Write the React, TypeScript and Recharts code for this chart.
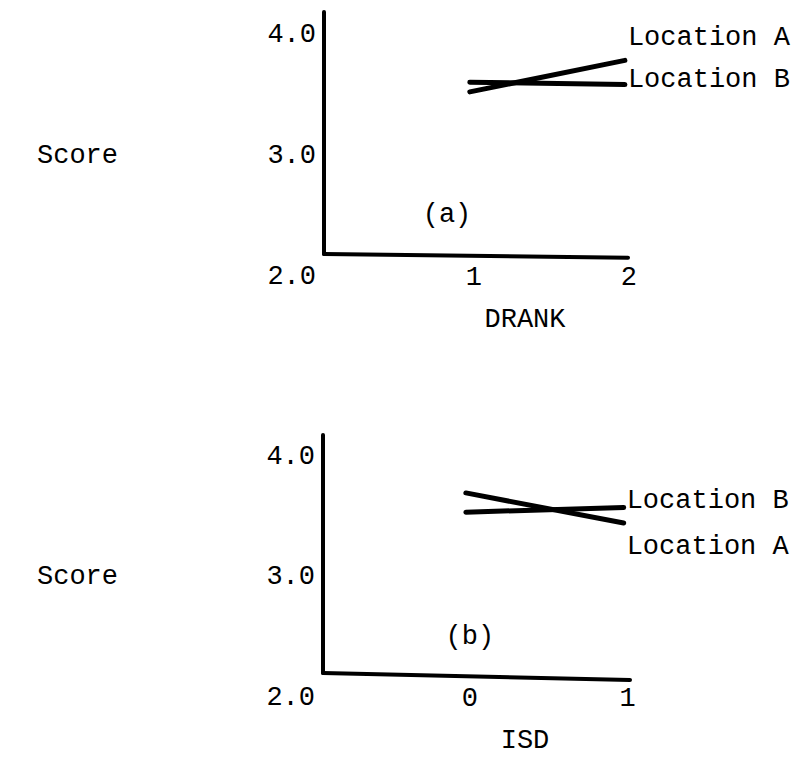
import React from 'react';
import { LineChart, Line, XAxis, YAxis, ReferenceLine, ReferenceDot, LabelList, Label } from 'recharts';

const FONT = '"Liberation Mono", "Courier New", monospace';
const FONT_SIZE = 27;

// y ticks shared by both panels
const scoreTicks = [2, 3, 4];

// panel (a): DRANK
const drankX = [1, 2];
const drankLocA = [3.53, 3.79];
const drankLocB = [3.61, 3.59];

// panel (b): ISD
const isdX = [0, 1];
const isdLocA = [3.7, 3.45];
const isdLocB = [3.54, 3.58];

const textStyle = { fontFamily: FONT, fontSize: FONT_SIZE, fill: '#000' };

const ScoreTick = (props: any) => {
    const { x, y, payload } = props;
    return (
        <g>
            <text x={x} y={y} textAnchor="end" dominantBaseline="central" {...textStyle}>
                {Number(payload.value).toFixed(1)}
            </text>
            {payload.value === 3 && (
                <text x={37} y={y} textAnchor="start" dominantBaseline="central" {...textStyle}>
                    Score
                </text>
            )}
        </g>
    );
};

const XTick = (props: any) => {
    const { x, y, payload } = props;
    return (
        <text x={x + 4} y={y + 1} textAnchor="middle" dominantBaseline="central" {...textStyle}>
            {payload.value}
        </text>
    );
};

const endLabel = (name: string, dy: number, last: number) => (p: any) => {
    if (p.index !== last) return null;
    return (
        <text x={p.x + 3} y={p.y + dy} textAnchor="start" dominantBaseline="central" {...textStyle}>
            {name}
        </text>
    );
};

interface PanelProps {
    xs: number[];
    locA: number[];
    locB: number[];
    xDomain: [number, number];
    yDomain: [number, number];
    axisLevel: [number, number];
    title: string;
    tag: string;
    tagAt: [number, number];
    aDy: number;
    bDy: number;
    margin: { top: number; right: number; bottom: number; left: number };
    yWidth: number;
    xHeight: number;
}

function Panel(p: PanelProps) {
    const data = p.xs.map((x, i) => ({ x, a: p.locA[i], b: p.locB[i] }));
    const last = data.length - 1;
    return (
        <LineChart width={810} height={379} data={data} margin={p.margin}>
            <XAxis
                dataKey="x"
                type="number"
                domain={p.xDomain}
                ticks={p.xs}
                axisLine={false}
                tickLine={false}
                tickSize={0}
                tickMargin={0}
                height={p.xHeight}
                tick={<XTick />}
                allowDataOverflow
            >
                <Label
                    content={(lp: any) => (
                        <text x={525} y={lp.viewBox.y + 43} textAnchor="middle" dominantBaseline="central" {...textStyle}>
                            {p.title}
                        </text>
                    )}
                />
            </XAxis>
            <YAxis
                type="number"
                domain={p.yDomain}
                ticks={scoreTicks}
                axisLine={false}
                tickLine={false}
                width={p.yWidth}
                tick={<ScoreTick />}
                allowDataOverflow
            />
            {/* hand-drawn axes: they meet above the 2.0 level */}
            <ReferenceLine
                segment={[{ x: p.xDomain[0], y: p.axisLevel[0] }, { x: p.xDomain[0], y: p.yDomain[1] }]}
                stroke="#000"
                strokeWidth={4}
                strokeLinecap="round"
            />
            <ReferenceLine
                segment={[{ x: p.xDomain[0], y: p.axisLevel[0] }, { x: p.xDomain[1], y: p.axisLevel[1] }]}
                stroke="#000"
                strokeWidth={4}
                strokeLinecap="round"
            />
            <ReferenceDot
                x={p.tagAt[0]}
                y={p.tagAt[1]}
                r={0}
                stroke="none"
                label={{
                    content: (lp: any) => (
                        <text x={lp.viewBox.cx ?? lp.viewBox.x} y={lp.viewBox.cy ?? lp.viewBox.y} textAnchor="middle" dominantBaseline="central" {...textStyle}>
                            {p.tag}
                        </text>
                    ),
                }}
            />
            <Line dataKey="a" stroke="#000" strokeWidth={5} strokeLinecap="round" dot={false} isAnimationActive={false}>
                <LabelList dataKey="a" content={endLabel('Location A', p.aDy, last)} />
            </Line>
            <Line dataKey="b" stroke="#000" strokeWidth={5} strokeLinecap="round" dot={false} isAnimationActive={false}>
                <LabelList dataKey="b" content={endLabel('Location B', p.bDy, last)} />
            </Line>
        </LineChart>
    );
}

export default function App() {
    return (
        <div style={{ position: 'absolute', left: 0, top: 0, width: 810, height: 758, background: '#fff' }}>
            <Panel
                xs={drankX}
                locA={drankLocA}
                locB={drankLocB}
                xDomain={[0.06, 2.02]}
                yDomain={[2, 4.19]}
                axisLevel={[2.19, 2.16]}
                title="DRANK"
                tag="(a)"
                tagAt={[0.853, 2.51]}
                aDy={-22}
                bDy={-5}
                margin={{ top: 12, right: 182, bottom: 0, left: 0 }}
                yWidth={324}
                xHeight={102}
            />
            <Panel
                xs={isdX}
                locA={isdLocA}
                locB={isdLocB}
                xDomain={[-0.905, 1.04]}
                yDomain={[2, 4.18]}
                axisLevel={[2.207, 2.15]}
                title="ISD"
                tag="(b)"
                tagAt={[0.025, 2.506]}
                aDy={24}
                bDy={-6}
                margin={{ top: 56, right: 180, bottom: 0, left: 0 }}
                yWidth={323}
                xHeight={60}
            />
        </div>
    );
}
